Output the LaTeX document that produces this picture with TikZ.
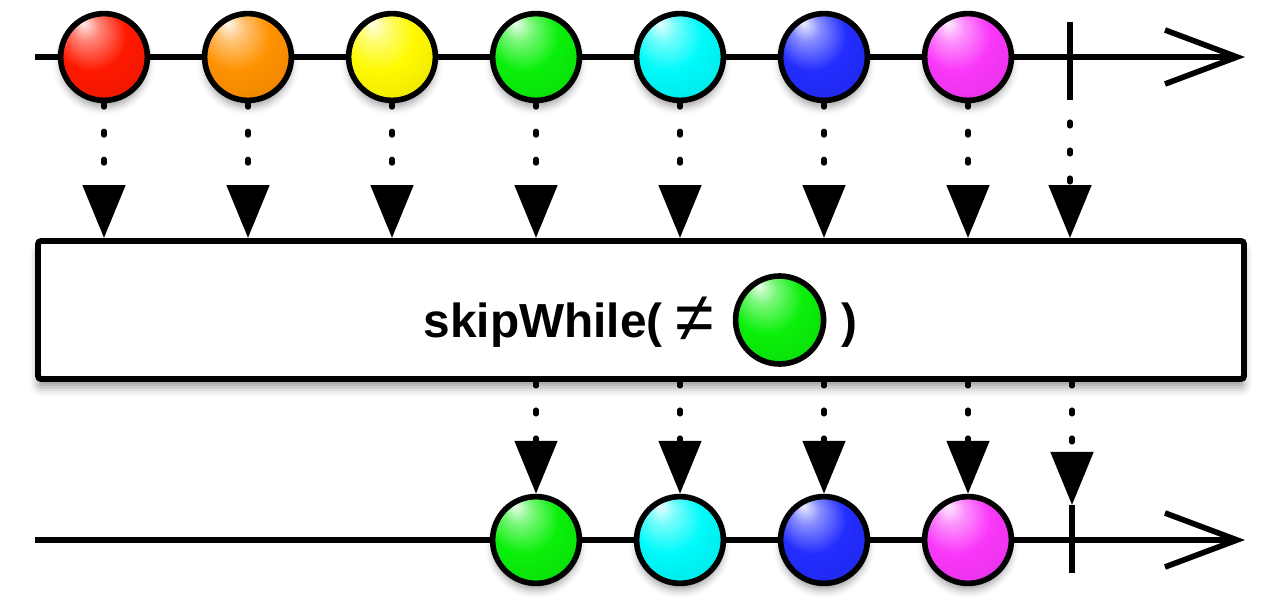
\documentclass[tikz,border=0pt]{standalone}
\usepackage{fontspec}
\setmainfont{Liberation Sans}
\usetikzlibrary{positioning,arrows.meta,shadows.blur}

\definecolor{mred}{RGB}{255,25,0}
\definecolor{morange}{RGB}{255,145,0}
\definecolor{myellow}{RGB}{255,250,0}
\definecolor{mgreen}{RGB}{10,240,10}
\definecolor{mcyan}{RGB}{0,250,250}
\definecolor{mblue}{RGB}{35,45,255}
\definecolor{mmagenta}{RGB}{250,55,250}

\colorlet{marblecol}{mred}
\pgfdeclareradialshading[marblecol]{marble}{\pgfpoint{-12bp}{20bp}}{%
  color(0bp)=(marblecol!8!white);
  color(8bp)=(marblecol!55!white);
  color(20bp)=(marblecol);
  color(36bp)=(marblecol!92!black);
  color(50bp)=(marblecol!60!black)}

\begin{document}
\begin{tikzpicture}[node distance=3.6cm,
  marble/.style={circle, draw, line width=4pt, minimum size=2.17cm, inner sep=0pt,
    shading=marble, /utils/exec={\colorlet{marblecol}{#1}}},
  event/.style={marble=#1, on grid,
    blur shadow={shadow xshift=0pt, shadow yshift=-5pt, shadow blur radius=5pt, shadow opacity=35}},
  timeline/.style={line width=4pt, -{Straight Barb[length=1.8cm, width=1.35cm]}},
  tick/.style={line width=4pt},
  flow/.style={line width=3.6pt, line cap=round, dash pattern=on 0.1cm off 0.6cm,
    -{Triangle[length=1.325cm, width=1.05cm]}},
  opbox/.style={rectangle, draw, fill=white, line width=4.25pt, rounded corners=0.08cm,
    minimum width=30.15cm, minimum height=3.45cm,
    blur shadow={shadow xshift=0pt, shadow yshift=-6pt, shadow blur radius=6pt, shadow opacity=40}},
  oplabel/.style={font=\bfseries\fontsize{34pt}{40pt}\selectfont, inner sep=0pt,
    text height=0.9cm, text depth=0.3cm}]
\useasboundingbox (0,0) rectangle (32,-15.25);

% source line
\coordinate (srcstart) at (0.875,-1.425);
\coordinate (srcend) at (31.125,-1.425);
\draw[timeline] (srcstart) -- (srcend);
\coordinate (srctop) at (26.75,-0.55);
\coordinate (srcbot) at (26.75,-2.5);
\draw[tick] (srctop) -- (srcbot);

\node (s1) [event=mred] at (2.6,-1.425) {};
\node (s2) [event=morange, right=of s1] {};
\node (s3) [event=myellow, right=of s2] {};
\node (s4) [event=mgreen, right=of s3] {};
\node (s5) [event=mcyan, right=of s4] {};
\node (s6) [event=mblue, right=of s5] {};
\node (s7) [event=mmagenta, right=of s6] {};

% operator
\node (op) [opbox] at (16.025,-7.75) {};
\node (midball) [marble=mgreen, minimum size=2.2cm] at (19.49,-8.0) {};
\node (optext) [oplabel, left=0.45cm of midball, yshift=-0.13cm]
  {skipWhile( \raisebox{-0.1cm}{\mdseries\fontsize{50pt}{50pt}\selectfont ≠}};
\node (opclose) [oplabel, right=0.38cm of midball, yshift=-0.13cm] {)};

\draw[flow] (s1) -- (s1 |- op.north);
\draw[flow] (s2) -- (s2 |- op.north);
\draw[flow] (s3) -- (s3 |- op.north);
\draw[flow] (s4) -- (s4 |- op.north);
\draw[flow] (s5) -- (s5 |- op.north);
\draw[flow] (s6) -- (s6 |- op.north);
\draw[flow] (s7) -- (s7 |- op.north);
\draw[flow, dash phase=0.15cm] (srcbot) -- (srcbot |- op.north);

% result line
\coordinate (resstart) at (0.875,-13.5);
\coordinate (resend) at (31.125,-13.5);
\draw[timeline] (resstart) -- (resend);
\coordinate (restop) at (26.8,-12.625);
\coordinate (resbot) at (26.8,-14.325);
\draw[tick] (restop) -- (resbot);

\node (r1) [event=mgreen, below=12.075cm of s4] {};
\node (r2) [event=mcyan, right=of r1] {};
\node (r3) [event=mblue, right=of r2] {};
\node (r4) [event=mmagenta, right=of r3] {};

\draw[flow] (r1 |- op.south) -- (r1);
\draw[flow] (r2 |- op.south) -- (r2);
\draw[flow] (r3 |- op.south) -- (r3);
\draw[flow] (r4 |- op.south) -- (r4);
\draw[flow] (restop |- op.south) -- (restop);

\end{tikzpicture}
\end{document}
